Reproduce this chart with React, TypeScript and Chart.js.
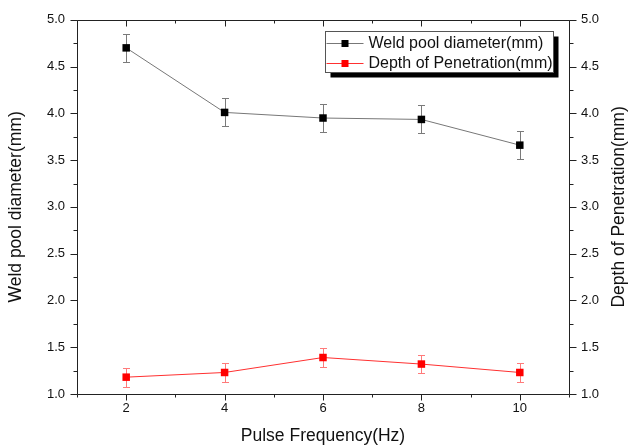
import React, { useEffect, useRef } from "react";
import { Chart, registerables } from "chart.js";

Chart.register(...registerables);

// ---- data ----
const FREQUENCIES = [2, 4, 6, 8, 10];
const DIAMETER = [4.7, 4.01, 3.95, 3.935, 3.66];
const DIAMETER_ERR = [0.15, 0.15, 0.15, 0.15, 0.15];
const PENETRATION = [1.18, 1.23, 1.39, 1.32, 1.23];
const PENETRATION_ERR = [0.1, 0.1, 0.1, 0.1, 0.1];

const X_MAJOR = [2, 4, 6, 8, 10];
const X_MINOR = [1, 3, 5, 7, 9, 11];
const Y_MAJOR = [1.0, 1.5, 2.0, 2.5, 3.0, 3.5, 4.0, 4.5, 5.0];
const Y_MINOR = [1.25, 1.75, 2.25, 2.75, 3.25, 3.75, 4.25, 4.75];

const SERIES_LABELS = ["Weld pool diameter(mm)", "Depth of Penetration(mm)"];
const X_TITLE = "Pulse Frequency(Hz)";
const Y_TITLE = "Weld pool diameter(mm)";
const Y2_TITLE = "Depth of Penetration(mm)";

const FONT = "'Liberation Sans', Arial, sans-serif";
const ERRORS = [DIAMETER_ERR, PENETRATION_ERR];
const ERR_COLORS = ["#7a7a7a", "#ff7a7a"];

const errorBarsPlugin = {
  id: "errorBars",
  beforeDatasetsDraw(chart: any) {
    const ctx = chart.ctx;
    const xScale = chart.scales.x;
    chart.data.datasets.forEach((ds: any, i: number) => {
      const meta = chart.getDatasetMeta(i);
      const yScale = chart.scales[meta.yAxisID];
      const errs = ERRORS[i];
      ctx.save();
      ctx.strokeStyle = ERR_COLORS[i];
      ctx.lineWidth = 1;
      ds.data.forEach((pt: any, j: number) => {
        const px = Math.round(xScale.getPixelForValue(pt.x)) + 0.5;
        const top = Math.round(yScale.getPixelForValue(pt.y + errs[j])) + 0.5;
        const bot = Math.round(yScale.getPixelForValue(pt.y - errs[j])) + 0.5;
        ctx.beginPath();
        ctx.moveTo(px, top);
        ctx.lineTo(px, bot);
        ctx.moveTo(px - 3.5, top);
        ctx.lineTo(px + 3.5, top);
        ctx.moveTo(px - 3.5, bot);
        ctx.lineTo(px + 3.5, bot);
        ctx.stroke();
      });
      ctx.restore();
    });
  },
};

const framePlugin = {
  id: "frameTicks",
  afterDraw(chart: any) {
    const ctx = chart.ctx;
    const { left, right, top, bottom } = chart.chartArea;
    const xs = chart.scales.x;
    const ys = chart.scales.y;
    const ys2 = chart.scales.y2;
    const L = Math.round(left) + 0.5;
    const R = Math.round(right) + 0.5;
    const T = Math.round(top) + 0.5;
    const B = Math.round(bottom) + 0.5;
    ctx.save();
    ctx.strokeStyle = "#222";
    ctx.lineWidth = 1;
    ctx.beginPath();
    ctx.rect(L, T, R - L, B - T);
    const xTick = (v: number, len: number) => {
      const p = Math.round(xs.getPixelForValue(v)) + 0.5;
      ctx.moveTo(p, B);
      ctx.lineTo(p, B + len);
      ctx.moveTo(p, T);
      ctx.lineTo(p, T + len);
    };
    X_MAJOR.forEach((v) => xTick(v, 6));
    X_MINOR.forEach((v) => xTick(v, 3));
    const yTick = (v: number, len: number) => {
      const p = Math.round(ys.getPixelForValue(v)) + 0.5;
      ctx.moveTo(L, p);
      ctx.lineTo(L - len, p);
      const p2 = Math.round(ys2.getPixelForValue(v)) + 0.5;
      ctx.moveTo(R, p2);
      ctx.lineTo(R + len, p2);
    };
    Y_MAJOR.forEach((v) => yTick(v, 7));
    Y_MINOR.forEach((v) => yTick(v, 4));
    ctx.stroke();

    // right axis title, reading bottom-to-top like the left one
    ctx.font = `17.5px ${FONT}`;
    ctx.fillStyle = "#111";
    ctx.textAlign = "center";
    ctx.textBaseline = "middle";
    ctx.translate(right + 50, (top + bottom) / 2);
    ctx.rotate(-Math.PI / 2);
    ctx.fillText(Y2_TITLE, 0, 0);
    ctx.restore();
  },
};

const legendPlugin = {
  id: "boxLegend",
  afterDraw(chart: any) {
    const ctx = chart.ctx;
    const { right, top } = chart.chartArea;
    const w = 228;
    const h = 41;
    const x = Math.round(right) - 16 - w + 0.5;
    const y = Math.round(top) + 11 + 0.5;
    ctx.save();
    ctx.fillStyle = "#000";
    ctx.fillRect(x + 5, y + 5, w, h);
    ctx.fillStyle = "#fff";
    ctx.fillRect(x, y, w, h);
    ctx.strokeStyle = "#555";
    ctx.lineWidth = 1;
    ctx.strokeRect(x, y, w, h);
    ctx.font = `16px ${FONT}`;
    ctx.textBaseline = "middle";
    ctx.textAlign = "left";
    chart.data.datasets.forEach((ds: any, i: number) => {
      const ry = Math.round(y + 11.5 + i * 19.5) + 0.5;
      ctx.strokeStyle = ds.borderColor;
      ctx.beginPath();
      ctx.moveTo(x + 1, ry);
      ctx.lineTo(x + 38, ry);
      ctx.stroke();
      ctx.fillStyle = ds.pointBackgroundColor;
      ctx.fillRect(x + 16, ry - 3.5, 7, 7);
      ctx.fillStyle = "#111";
      ctx.fillText(ds.label, x + 43, ry + 0.5);
    });
    ctx.restore();
  },
};

export default function App() {
  const canvasRef = useRef<HTMLCanvasElement | null>(null);

  useEffect(() => {
    if (!canvasRef.current) return;
    Chart.defaults.font.family = FONT;
    const titleFont = { size: 17.5, family: FONT };
    const tickFont = { size: 13, family: FONT };

    const chart = new Chart(canvasRef.current, {
      type: "line",
      data: {
        datasets: [
          {
            label: SERIES_LABELS[0],
            data: FREQUENCIES.map((f, i) => ({ x: f, y: DIAMETER[i] })),
            borderColor: "#777777",
            borderWidth: 1,
            pointStyle: "rect",
            pointRadius: 5.3,
            pointBackgroundColor: "#000000",
            pointBorderColor: "#000000",
            pointBorderWidth: 0,
            yAxisID: "y",
            tension: 0,
          },
          {
            label: SERIES_LABELS[1],
            data: FREQUENCIES.map((f, i) => ({ x: f, y: PENETRATION[i] })),
            borderColor: "#ff3030",
            borderWidth: 1,
            pointStyle: "rect",
            pointRadius: 5.3,
            pointBackgroundColor: "#ff0000",
            pointBorderColor: "#ff0000",
            pointBorderWidth: 0,
            yAxisID: "y2",
            tension: 0,
          },
        ],
      },
      options: {
        animation: false,
        responsive: false,
        clip: false as any,
        layout: { padding: { top: 18, left: 0, right: 0, bottom: 0 } },
        plugins: {
          legend: { display: false },
          tooltip: { enabled: false },
        },
        scales: {
          x: {
            type: "linear",
            min: 1,
            max: 11,
            afterBuildTicks: (s: any) => {
              s.ticks = X_MAJOR.map((v) => ({ value: v }));
            },
            afterFit: (s: any) => {
              s.height = 54;
            },
            grid: { display: false, drawTicks: false, tickLength: 0 },
            border: { display: false },
            ticks: { font: tickFont, color: "#111", padding: 7, maxRotation: 0 },
            title: {
              display: true,
              text: X_TITLE,
              font: titleFont,
              color: "#111",
              padding: { top: 0, bottom: 1 },
            },
          },
          y: {
            type: "linear",
            position: "left",
            min: 1,
            max: 5,
            afterBuildTicks: (s: any) => {
              s.ticks = Y_MAJOR.map((v) => ({ value: v }));
            },
            afterFit: (s: any) => {
              s.width = 77;
            },
            grid: { display: false, drawTicks: false, tickLength: 0 },
            border: { display: false },
            ticks: {
              font: tickFont,
              color: "#111",
              padding: 12,
              callback: (v: any) => Number(v).toFixed(1),
            },
            title: {
              display: true,
              text: Y_TITLE,
              font: titleFont,
              color: "#111",
              padding: { top: 6, bottom: 0 },
            },
          },
          y2: {
            type: "linear",
            position: "right",
            min: 1,
            max: 5,
            afterBuildTicks: (s: any) => {
              s.ticks = Y_MAJOR.map((v) => ({ value: v }));
            },
            afterFit: (s: any) => {
              s.width = 61;
            },
            grid: { display: false, drawTicks: false, tickLength: 0 },
            border: { display: false },
            ticks: {
              font: tickFont,
              color: "#111",
              padding: 12,
              callback: (v: any) => Number(v).toFixed(1),
            },
            title: { display: false, text: Y2_TITLE },
          },
        },
      } as any,
      plugins: [errorBarsPlugin, framePlugin, legendPlugin],
    });
    return () => chart.destroy();
  }, []);

  return (
    <div style={{ position: "absolute", left: 0, top: 0, width: 630, height: 448, background: "#fff" }}>
      <canvas ref={canvasRef} width={630} height={448} />
    </div>
  );
}
